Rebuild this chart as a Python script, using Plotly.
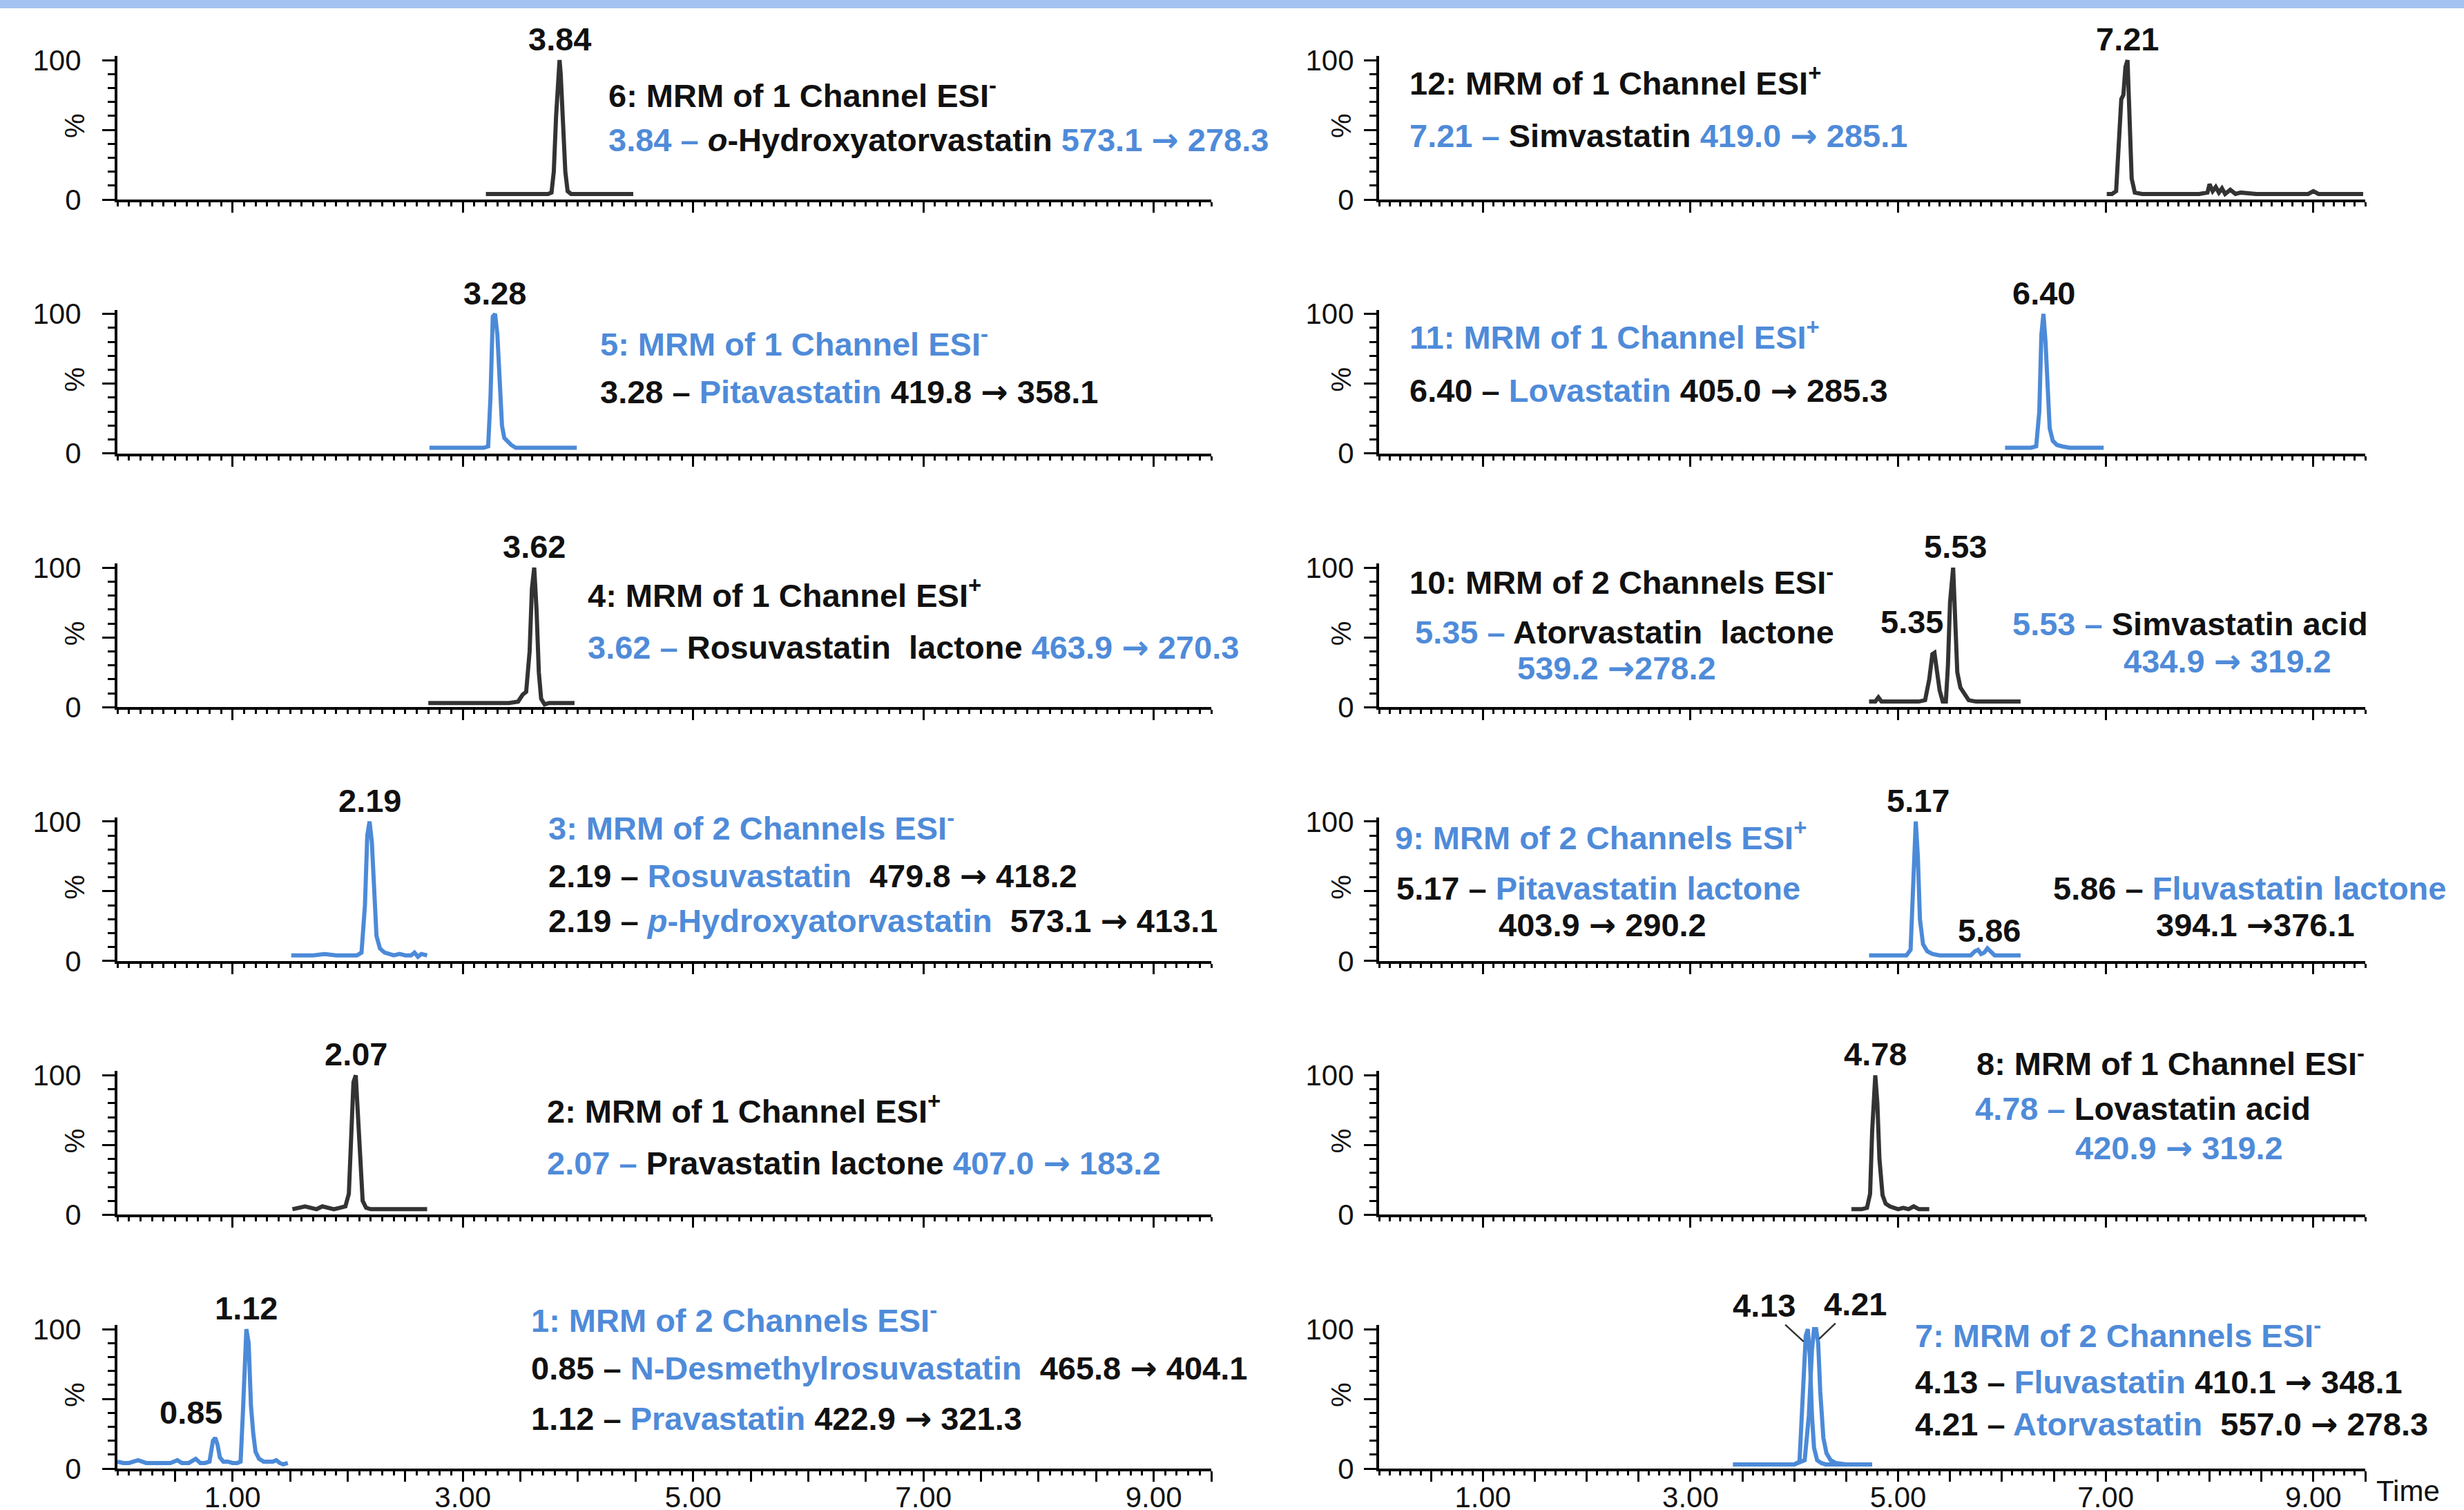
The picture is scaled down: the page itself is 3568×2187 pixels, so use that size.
import plotly.graph_objects as go

# ---------------- data (retention time in min, relative intensity in %) ----------------
CH1_T = [0.00, 0.05, 0.10, 0.18, 0.25, 0.32, 0.40, 0.46, 0.52, 0.56, 0.62, 0.68, 0.72, 0.76, 0.80, 0.83, 0.85, 0.87,
         0.89, 0.92, 0.96, 1.00, 1.04, 1.07, 1.09, 1.11, 1.12, 1.14, 1.16, 1.18, 1.20, 1.23, 1.27, 1.31, 1.35, 1.38,
         1.41, 1.44, 1.48]
CH1_I = [5, 4, 4, 6, 4, 4, 4, 4, 6, 4, 4, 7, 4, 4, 5, 20, 22, 17, 8, 5, 5, 4, 4, 5, 40, 95, 100, 90, 45, 25, 12, 7, 5,
         5, 5, 6, 4, 3, 4]
CH2_T = [1.52, 1.58, 1.63, 1.68, 1.73, 1.78, 1.83, 1.88, 1.93, 1.98, 2.01, 2.03, 2.05, 2.07, 2.09, 2.11, 2.13, 2.16,
         2.20, 2.30, 2.40, 2.50, 2.60, 2.69]
CH2_I = [4, 5, 6, 5, 4, 6, 5, 4, 5, 6, 15, 55, 95, 100, 70, 30, 10, 5, 4, 4, 4, 4, 4, 4]
CH3_T = [1.51, 1.60, 1.70, 1.80, 1.90, 2.00, 2.08, 2.12, 2.15, 2.17, 2.19, 2.21, 2.23, 2.25, 2.28, 2.32, 2.36, 2.40,
         2.45, 2.50, 2.55, 2.58, 2.61, 2.64, 2.69]
CH3_I = [4, 4, 4, 5, 4, 4, 4, 6, 40, 90, 100, 85, 45, 18, 9, 6, 5, 4, 5, 4, 4, 6, 3, 5, 4]
CH4_T = [2.70, 2.80, 2.90, 3.00, 3.10, 3.20, 3.30, 3.40, 3.48, 3.52, 3.55, 3.58, 3.60, 3.62, 3.64, 3.66, 3.68, 3.71,
         3.75, 3.80, 3.90, 3.97]
CH4_I = [3, 3, 3, 3, 3, 3, 3, 3, 4, 9, 11, 40, 85, 100, 70, 25, 6, 2, 3, 3, 3, 3]
CH5_T = [2.71, 2.80, 2.90, 3.00, 3.10, 3.18, 3.22, 3.24, 3.26, 3.28, 3.30, 3.32, 3.34, 3.36, 3.39, 3.42, 3.46, 3.50,
         3.60, 3.70, 3.80, 3.90, 3.99]
CH5_I = [4, 4, 4, 4, 4, 4, 5, 40, 98, 100, 85, 55, 20, 11, 8, 6, 4, 4, 4, 4, 4, 4, 4]
CH6_T = [3.20, 3.30, 3.40, 3.50, 3.60, 3.70, 3.74, 3.77, 3.79, 3.81, 3.83, 3.84, 3.85, 3.87, 3.89, 3.91, 3.94, 4.00,
         4.10, 4.20, 4.30, 4.40, 4.48]
CH6_I = [4, 4, 4, 4, 4, 4, 4, 5, 20, 60, 95, 100, 90, 55, 20, 6, 4, 4, 4, 4, 4, 4, 4]
CH7A_T = [3.41, 3.50, 3.60, 3.70, 3.80, 3.90, 4.00, 4.05, 4.08, 4.11, 4.13, 4.15, 4.17, 4.19, 4.22, 4.26, 4.30, 4.40,
          4.50, 4.60, 4.75]
CH7A_I = [3, 3, 3, 3, 3, 3, 3, 5, 45, 95, 100, 80, 38, 15, 6, 4, 3, 3, 3, 3, 3]
CH7B_T = [3.41, 3.50, 3.60, 3.70, 3.80, 3.90, 4.00, 4.10, 4.14, 4.17, 4.19, 4.21, 4.23, 4.25, 4.28, 4.31, 4.35, 4.40,
          4.50, 4.60, 4.75]
CH7B_I = [3, 3, 3, 3, 3, 3, 3, 6, 38, 85, 100, 100, 90, 55, 22, 11, 6, 4, 3, 3, 3]
CH8_T = [4.55, 4.60, 4.65, 4.70, 4.73, 4.75, 4.77, 4.78, 4.80, 4.82, 4.85, 4.88, 4.92, 4.96, 5.00, 5.05, 5.10, 5.15,
         5.20, 5.25, 5.30]
CH8_I = [4, 4, 4, 5, 15, 60, 98, 100, 80, 40, 14, 8, 6, 5, 4, 5, 4, 6, 4, 4, 4]
CH9_T = [4.72, 4.80, 4.90, 5.00, 5.08, 5.12, 5.15, 5.17, 5.19, 5.21, 5.24, 5.28, 5.33, 5.40, 5.50, 5.60, 5.70, 5.74,
         5.77, 5.80, 5.83, 5.86, 5.89, 5.93, 6.00, 6.10, 6.18]
CH9_I = [4, 4, 4, 4, 4, 8, 70, 100, 75, 30, 12, 7, 5, 4, 4, 4, 4, 7, 8, 5, 6, 9, 7, 4, 4, 4, 4]
CH10_T = [4.72, 4.78, 4.81, 4.84, 4.90, 5.00, 5.10, 5.20, 5.26, 5.30, 5.33, 5.35, 5.37, 5.40, 5.43, 5.46, 5.48, 5.50,
          5.53, 5.55, 5.57, 5.60, 5.64, 5.68, 5.75, 5.85, 5.95, 6.05, 6.18]
CH10_I = [4, 4, 7, 4, 4, 4, 4, 4, 5, 20, 38, 39, 28, 12, 4, 4, 30, 75, 100, 60, 25, 14, 9, 5, 4, 4, 4, 4, 4]
CH11_T = [6.03, 6.10, 6.20, 6.28, 6.33, 6.36, 6.38, 6.40, 6.42, 6.44, 6.46, 6.49, 6.53, 6.58, 6.65, 6.75, 6.85, 6.98]
CH11_I = [4, 4, 4, 4, 5, 30, 85, 100, 80, 40, 18, 9, 6, 5, 4, 4, 4, 4]
CH12_T = [7.01, 7.06, 7.10, 7.13, 7.15, 7.17, 7.19, 7.21, 7.23, 7.25, 7.28, 7.35, 7.50, 7.70, 7.90, 7.98, 8.00, 8.03,
          8.06, 8.09, 8.12, 8.15, 8.20, 8.25, 8.30, 8.45, 8.60, 8.80, 8.95, 9.00, 9.05, 9.20, 9.35, 9.48]
CH12_I = [4, 4, 6, 40, 72, 75, 95, 100, 60, 15, 5, 4, 4, 4, 4, 5, 11, 6, 9, 5, 8, 4, 7, 4, 5, 4, 4, 4, 4, 6, 4, 4, 4, 4]

X_TICK_VALUES = [0.5 * k for k in range(1, 20)]
X_TICK_LABELED = [1.0, 3.0, 5.0, 7.0, 9.0]
Y_TICK_VALUES = [0, 50, 100]
Y_TICK_TEXT = ["0", "", "100"]

# ---------------- styling ----------------
BLUE = "#4f8bd9"
BLACK = "#111111"
TRACE_BLUE = "#4c8ad8"
TRACE_DARK = "#333333"
FONT = "Liberation Sans"
TXT_SIZE = 47
W, H = 3568, 2187
X_MAX, Y_MAX = 9.5, 103

# (channel, column, row, trace list, trace colour)
PANELS = [
    (6, 0, 0, [(CH6_T, CH6_I)], TRACE_DARK),
    (5, 0, 1, [(CH5_T, CH5_I)], TRACE_BLUE),
    (4, 0, 2, [(CH4_T, CH4_I)], TRACE_DARK),
    (3, 0, 3, [(CH3_T, CH3_I)], TRACE_BLUE),
    (2, 0, 4, [(CH2_T, CH2_I)], TRACE_DARK),
    (1, 0, 5, [(CH1_T, CH1_I)], TRACE_BLUE),
    (12, 1, 0, [(CH12_T, CH12_I)], TRACE_DARK),
    (11, 1, 1, [(CH11_T, CH11_I)], TRACE_BLUE),
    (10, 1, 2, [(CH10_T, CH10_I)], TRACE_DARK),
    (9, 1, 3, [(CH9_T, CH9_I)], TRACE_BLUE),
    (8, 1, 4, [(CH8_T, CH8_I)], TRACE_DARK),
    (7, 1, 5, [(CH7A_T, CH7A_I), (CH7B_T, CH7B_I)], TRACE_BLUE),
]

B, K = BLUE, BLACK
TEXTS = {
    6: [(4.25, 76, [("6: MRM of 1 Channel ESI<sup>-</sup>", K)]),
        (4.25, 43, [("3.84 – ", B), ("<i>o</i>-Hydroxyatorvastatin ", K), ("573.1 → 278.3", B)])],
    12: [(0.28, 85, [("12: MRM of 1 Channel ESI<sup>+</sup>", K)]),
         (0.28, 46, [("7.21 – ", B), ("Simvastatin ", K), ("419.0 → 285.1", B)])],
    5: [(4.18, 80, [("5: MRM of 1 Channel ESI<sup>-</sup>", B)]),
        (4.18, 44, [("3.28 – ", K), ("Pitavastatin ", B), ("419.8 → 358.1", K)])],
    11: [(0.28, 85, [("11: MRM of 1 Channel ESI<sup>+</sup>", B)]),
         (0.28, 45, [("6.40 – ", K), ("Lovastatin ", B), ("405.0 → 285.3", K)])],
    4: [(4.07, 82, [("4: MRM of 1 Channel ESI<sup>+</sup>", K)]),
        (4.07, 43, [("3.62 – ", B), ("Rosuvastatin  lactone ", K), ("463.9 → 270.3", B)])],
    10: [(0.28, 91, [("10: MRM of 2 Channels ESI<sup>-</sup>", K)]),
         (0.33, 54, [("5.35 – ", B), ("Atorvastatin  lactone", K)]),
         (1.32, 28, [("539.2 →278.2", B)]),
         (6.09, 60, [("5.53 – ", B), ("Simvastatin acid", K)]),
         (7.16, 33, [("434.9 → 319.2", B)])],
    3: [(3.73, 97, [("3: MRM of 2 Channels ESI<sup>-</sup>", B)]),
        (3.73, 61, [("2.19 – ", K), ("Rosuvastatin  ", B), ("479.8 → 418.2", K)]),
        (3.73, 29, [("2.19 – ", K), ("<i>p</i>-Hydroxyatorvastatin  ", B), ("573.1 → 413.1", K)])],
    9: [(0.14, 90, [("9: MRM of 2 Channels ESI<sup>+</sup>", B)]),
        (0.15, 52, [("5.17 – ", K), ("Pitavastatin lactone", B)]),
        (1.14, 26, [("403.9 → 290.2", K)]),
        (6.48, 52, [("5.86 – ", K), ("Fluvastatin lactone", B)]),
        (7.47, 26, [("394.1 →376.1", K)])],
    2: [(3.72, 76, [("2: MRM of 1 Channel ESI<sup>+</sup>", K)]),
        (3.72, 37, [("2.07 – ", B), ("Pravastatin lactone ", K), ("407.0 → 183.2", B)])],
    8: [(5.74, 110, [("8: MRM of 1 Channel ESI<sup>-</sup>", K)]),
        (5.73, 76, [("4.78 – ", B), ("Lovastatin acid", K)]),
        (6.69, 48, [("420.9 → 319.2", B)])],
    1: [(3.58, 108, [("1: MRM of 2 Channels ESI<sup>-</sup>", B)]),
        (3.58, 72, [("0.85 – ", K), ("N-Desmethylrosuvastatin  ", B), ("465.8 → 404.1", K)]),
        (3.58, 36, [("1.12 – ", K), ("Pravastatin ", B), ("422.9 → 321.3", K)])],
    7: [(5.15, 97, [("7: MRM of 2 Channels ESI<sup>-</sup>", B)]),
        (5.15, 62, [("4.13 – ", K), ("Fluvastatin ", B), ("410.1 → 348.1", K)]),
        (5.15, 32, [("4.21 – ", K), ("Atorvastatin  ", B), ("557.0 → 278.3", K)])],
}

# peak labels: (channel, label, x, y-bottom)
PEAK_LABELS = [
    (6, "3.84", 3.84, 101), (12, "7.21", 7.21, 101), (5, "3.28", 3.28, 101), (11, "6.40", 6.40, 101),
    (4, "3.62", 3.62, 101), (10, "5.53", 5.55, 101), (10, "5.35", 5.13, 47), (3, "2.19", 2.19, 101),
    (9, "5.17", 5.19, 101), (9, "5.86", 5.88, 8), (2, "2.07", 2.07, 101), (8, "4.78", 4.78, 101),
    (1, "1.12", 1.12, 101), (1, "0.85", 0.64, 26),
]
# labels with leader lines: (channel, label, tip x, tip y, text x, text y)
LEADER_LABELS = [(7, "4.13", 4.09, 91, 3.71, 117), (7, "4.21", 4.24, 93, 4.59, 118)]

# ---------------- geometry (pixels) ----------------
COL_X = [(170, 1754), (1997, 3425)]
ROW0_BOTTOM, ROW_STEP, PX_PER_100 = 289, 367.6, 202


def ax_id(ch):
    return "" if ch == 1 else str(ch)


def rich(segs):
    out = []
    for s, c in segs:
        parts = s.split("→")
        for j, p in enumerate(parts):
            if p:
                out.append(f"<span style='color:{c}'>{p}</span>")
            if j < len(parts) - 1:
                out.append(f"<span style='color:{c};font-family:DejaVu Sans'>→</span>")
    return "<b>" + "".join(out) + "</b>"


fig = go.Figure()
layout = dict(width=W, height=H, margin=dict(l=0, r=0, t=0, b=0, pad=0, autoexpand=False),
              paper_bgcolor="white", plot_bgcolor="white", showlegend=False)
annotations = []

for ch, col, row, traces, color in PANELS:
    n = ax_id(ch)
    xa, ya = f"x{n}", f"y{n}"
    for tt, ii in traces:
        fig.add_trace(go.Scatter(x=tt, y=ii, mode="lines", xaxis=xa, yaxis=ya,
                                 line=dict(color=color, width=6), hoverinfo="skip"))
    x0, x1 = COL_X[col]
    bottom = ROW0_BOTTOM + row * ROW_STEP
    top = bottom - PX_PER_100 * Y_MAX / 100
    bottom_row = (row == 5)
    layout[f"xaxis{n}"] = dict(
        domain=[x0 / W, x1 / W], range=[0, X_MAX], anchor=ya, showline=True, linecolor="black", linewidth=4,
        ticks="outside", tickvals=X_TICK_VALUES,
        ticktext=[(f"{v:.2f}" if v in X_TICK_LABELED else "") for v in X_TICK_VALUES],
        ticklen=15, tickwidth=3, tickcolor="black", showticklabels=bottom_row, automargin=False,
        ticklabelstandoff=-13,
        tickfont=dict(family=FONT, size=42, color=BLACK),
        minor=dict(tickmode="linear", tick0=0, dtick=0.1, ticks="outside", ticklen=6, tickwidth=2.5,
                   tickcolor="black", showgrid=False),
        showgrid=False, zeroline=False, fixedrange=True)
    layout[f"yaxis{n}"] = dict(
        domain=[1 - bottom / H, 1 - top / H], range=[0, Y_MAX], anchor=xa, showline=True, linecolor="black",
        linewidth=4, ticks="outside", tickvals=Y_TICK_VALUES, ticktext=Y_TICK_TEXT, ticklen=18, tickwidth=3,
        tickcolor="black", tickfont=dict(family=FONT, size=42, color=BLACK), automargin=False,
        ticklabelstandoff=(22 if col == 0 else 6),
        minor=dict(tickmode="linear", tick0=0, dtick=10, ticks="outside", ticklen=10, tickwidth=2.5,
                   tickcolor="black", showgrid=False),
        showgrid=False, zeroline=False, fixedrange=True)
    # "%" axis caption
    annotations.append(dict(text="%", xref=f"{xa} domain", yref=f"{ya} domain",
                            x=(-62 if col == 0 else -55) / (x1 - x0), y=53 / Y_MAX,
                            xanchor="center", yanchor="middle", textangle=-90, showarrow=False,
                            font=dict(family=FONT, size=40, color=BLACK)))
    for tx, ty, segs in TEXTS[ch]:
        annotations.append(dict(text=rich(segs), xref=f"{xa} domain", yref=f"{ya} domain",
                                x=tx / X_MAX, y=ty / Y_MAX, xanchor="left", yanchor="middle", showarrow=False,
                                font=dict(family=FONT, size=TXT_SIZE, color=BLACK)))

for ch, lab, px, py in PEAK_LABELS:
    n = ax_id(ch)
    annotations.append(dict(text=f"<b>{lab}</b>", xref=f"x{n}", yref=f"y{n}", x=px, y=py, xanchor="center",
                            yanchor="bottom", showarrow=False, font=dict(family=FONT, size=TXT_SIZE, color=BLACK)))
for ch, lab, tx, ty, lx, ly in LEADER_LABELS:
    n = ax_id(ch)
    annotations.append(dict(text=f"<b>{lab}</b>", xref=f"x{n}", yref=f"y{n}", x=tx, y=ty,
                            axref=f"x{n}", ayref=f"y{n}", ax=lx, ay=ly, showarrow=True, arrowhead=0,
                            arrowwidth=2.5, arrowcolor="#333333",
                            font=dict(family=FONT, size=TXT_SIZE, color=BLACK)))

annotations.append(dict(text="Time", xref="x7 domain", yref="y7 domain", x=9.59 / X_MAX, y=-16 / Y_MAX,
                        xanchor="left", yanchor="middle", showarrow=False,
                        font=dict(family=FONT, size=42, color=BLACK)))

layout["annotations"] = annotations
layout["shapes"] = [dict(type="rect", xref="paper", yref="paper", x0=0, x1=1, y0=1 - 12 / H, y1=1,
                         fillcolor="#a4c2f2", line=dict(width=0), layer="above")]
fig.update_layout(**layout)
fig.write_html("out.html", config={"displayModeBar": False},
               post_script="document.body.style.margin='0';document.body.style.overflow='hidden';")
